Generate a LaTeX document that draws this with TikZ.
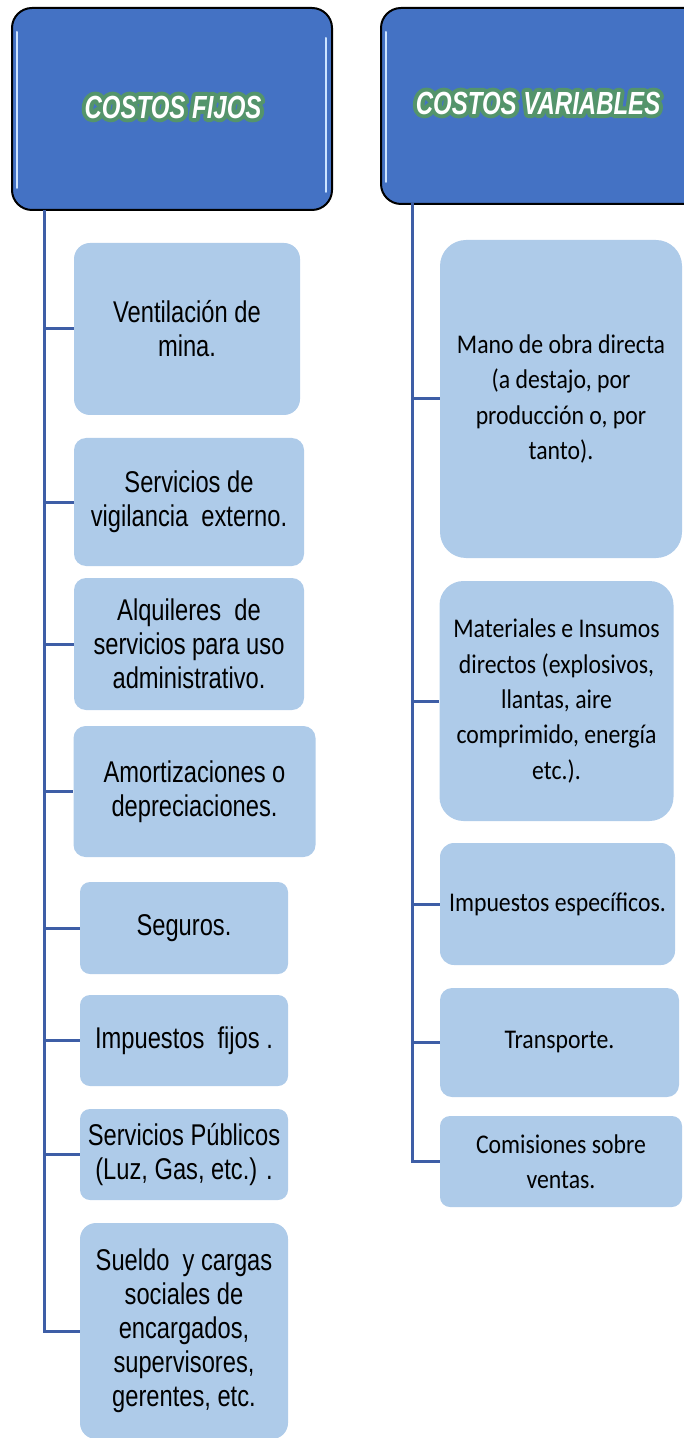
\documentclass[tikz,border=0pt]{standalone}
\usepackage{fontspec}
\setmainfont{Liberation Sans}[FakeStretch=0.79]
\newfontfamily\calibri{Carlito}[FakeStretch=0.88]
\newfontfamily\titulo{Liberation Sans}[FakeStretch=0.75]
\usepackage{tikz}
\usetikzlibrary{positioning}
\definecolor{azul}{RGB}{68,114,196}
\definecolor{celeste}{RGB}{174,203,233}
\definecolor{linea}{RGB}{62,94,166}
\definecolor{brillo}{RGB}{205,228,255}
\newcommand{\contorno}[1]{\special{pdf:literal direct 1 Tr 4 w 1 J 1 j 0.33 0.58 0.42 RG}#1\special{pdf:literal direct 0 Tr}}
\tikzset{
	cabecera/.style = {draw=black, line width=1pt, fill=azul, rounded corners=10pt, inner sep=0pt},
	caja/.style = {fill=celeste, rounded corners=#1, inner sep=0pt, align=center},
	caja/.default = 7pt,
	textofijo/.style = {font=\fontsize{15pt}{17pt}\selectfont},
	textovar/.style = {font=\calibri\fontsize{13.5pt}{17.7pt}\selectfont},
	rotulo/.style = {font=\titulo\bfseries\itshape\fontsize{16pt}{18pt}\selectfont, inner sep=0pt, text=white},
	rama/.style = {draw=linea, line width=1.5pt}
}

\begin{document}
\begin{tikzpicture}[x=0.5pt, y=-0.5pt]
		\useasboundingbox (0,0) rectangle (684,1438);
		\node[cabecera, minimum width=160pt, minimum height=101pt] (fijos) at (172,109) {};
		\node[cabecera, minimum width=170pt, minimum height=98pt, anchor=north west] (variables) at (380,7) {};
		\draw[brillo, line width=1pt, line cap=round] (17,32) -- (17,188);
		\draw[brillo, line width=1pt, line cap=round] (326,38) -- (326,192);
		\draw[brillo, line width=1pt, line cap=round] (386,32) -- (386,182);
		\node[rotulo] (gf) at (173,107) {\contorno{COSTOS FIJOS}};
		\node[rotulo] (gv) at (538,103) {\contorno{COSTOS VARIABLES}};
		\node[rotulo] (tf) at (173,107) {COSTOS FIJOS};
		\node[rotulo] (tv) at (538,103) {COSTOS VARIABLES};

		\node[caja=8pt, textofijo, minimum width=113pt, minimum height=86pt] (f1) at (187,329) {Ventilación de\\mina.};
		\node[caja=6pt, textofijo, minimum width=115pt, minimum height=64pt] (f2) at (189,502) {Servicios de\\vigilancia\ \ externo.};
		\node[caja=6pt, textofijo, minimum width=115pt, minimum height=66pt] (f3) at (189,644) {Alquileres\ \ de\\servicios para uso\\administrativo.};
		\node[caja=6pt, textofijo, minimum width=121pt, minimum height=65.5pt] (f4) at (194.5,791.5) {Amortizaciones o\\depreciaciones.};
		\node[caja=5pt, textofijo, minimum width=104pt, minimum height=46pt] (f5) at (184,928) {Seguros.};
		\node[caja=5pt, textofijo, minimum width=104pt, minimum height=45.5pt] (f6) at (184,1040.5) {Impuestos\ \ fijos .};
		\node[caja=5pt, textofijo, minimum width=104pt, minimum height=45.5pt] (f7) at (184,1154.5) {Servicios Públicos\\(Luz, Gas, etc.) .};
		\node[caja=8pt, textofijo, minimum width=104pt, minimum height=108pt] (f8) at (184,1331) {Sueldo\ \ y cargas\\sociales de\\encargados,\\supervisores,\\gerentes, etc.};

		\node[caja=13pt, textovar, minimum width=121pt, minimum height=159pt] (v1) at (561,399) {Mano de obra directa\\(a destajo, por\\producción o, por\\tanto).};
		\node[caja=12pt, textovar, minimum width=117pt, minimum height=120pt] (v2) at (556.5,701) {Materiales e Insumos\\directos (explosivos,\\llantas, aire\\comprimido, energía\\etc.).};
		\node[caja=7pt, textovar, minimum width=117.5pt, minimum height=61pt] (v3) at (557.5,904) {Impuestos específicos.};
		\node[caja=6pt, textovar, minimum width=119.5pt, minimum height=54.5pt] (v4) at (559.5,1042.5) {Transporte.};
		\node[caja=5pt, textovar, minimum width=121pt, minimum height=45.5pt] (v5) at (561,1161.5) {Comisiones sobre\\ventas.};

		\coordinate (troncoF) at (44,210);
		\coordinate (troncoV) at (412,203);
		\draw[rama] (troncoF) |- (f8.west);
		\foreach \n in {f1,f2,f3,f4,f5,f6,f7}
			\draw[rama] (troncoF |- \n.west) -- (\n.west);
		\draw[rama] (troncoV) |- (v5.west);
		\foreach \n in {v1,v2,v3,v4}
			\draw[rama] (troncoV |- \n.west) -- (\n.west);
	\end{tikzpicture}
\end{document}
